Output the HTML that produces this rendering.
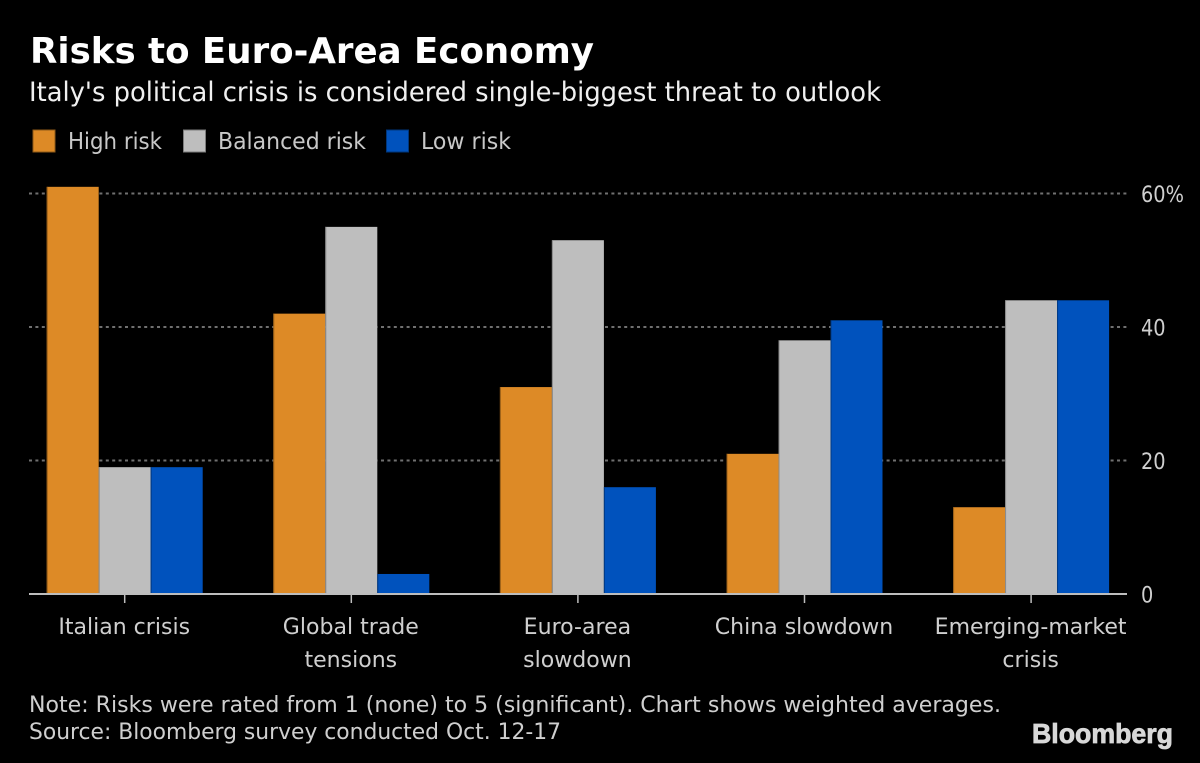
<!DOCTYPE html>
<html>
<head>
<meta charset="utf-8">
<title>Risks to Euro-Area Economy</title>
<style>
html,body{margin:0;padding:0;background:#000;}
svg{display:block;}
text{font-family:"DejaVu Sans","Liberation Sans",sans-serif;}
.lg{font-size:23px;fill:#c8c8c8;}
.cat{font-size:22.5px;fill:#cfcfcf;text-anchor:middle;}
.tick{font-size:22.5px;fill:#cfcfcf;}
.foot{font-size:22.5px;fill:#cfcfcf;}
</style>
</head>
<body>
<svg id="chart" xmlns="http://www.w3.org/2000/svg" width="1200" height="763" viewBox="0 0 1200 763">
  <rect x="0" y="0" width="1200" height="763" fill="#000"/>
  <text x="30" y="63" font-size="36" font-weight="700" fill="#fff" textLength="564" lengthAdjust="spacingAndGlyphs">Risks to Euro-Area Economy</text>
  <text x="29" y="101" font-size="27" fill="#f0f0f0" textLength="852" lengthAdjust="spacingAndGlyphs">Italy's political crisis is considered single-biggest threat to outlook</text>

  <g>
    <rect x="33" y="130" width="22" height="22" fill="#dd8a26" stroke="#8f5a18"/>
    <text class="lg" x="68" y="149" textLength="94" lengthAdjust="spacingAndGlyphs">High risk</text>
    <rect x="183.5" y="130" width="22" height="22" fill="#bebebe" stroke="#7c7c7c"/>
    <text class="lg" x="218" y="149" textLength="148" lengthAdjust="spacingAndGlyphs">Balanced risk</text>
    <rect x="386.5" y="130" width="22" height="22" fill="#0052bd" stroke="#00367b"/>
    <text class="lg" x="421" y="149" textLength="90" lengthAdjust="spacingAndGlyphs">Low risk</text>
  </g>

  <g id="grid"></g>
  <g id="bars"></g>
  <g id="axis"></g>

  <text class="foot" x="29" y="712" textLength="972" lengthAdjust="spacingAndGlyphs">Note: Risks were rated from 1 (none) to 5 (significant). Chart shows weighted averages.</text>
  <text class="foot" x="29" y="739" textLength="532" lengthAdjust="spacingAndGlyphs">Source: Bloomberg survey conducted Oct. 12-17</text>
  <text x="1032" y="743" font-size="28" font-weight="700" fill="#d8d8d8" stroke="#d8d8d8" stroke-width="0.8" style="font-family:'Liberation Sans',sans-serif" textLength="141" lengthAdjust="spacingAndGlyphs">Bloomberg</text>
</svg>
<script>
var categories = [["Italian crisis"], ["Global trade", "tensions"], ["Euro-area", "slowdown"], ["China slowdown"], ["Emerging-market", "crisis"]];
var highRisk = [61, 42, 31, 21, 13];
var balancedRisk = [19, 55, 53, 38, 44];
var lowRisk = [19, 3, 16, 41, 44];
var yTicks = [0, 20, 40, 60];
var yTickLabels = ["0", "20", "40", "60%"];

var NS = "http://www.w3.org/2000/svg";
var seriesList = [
  { key: "high-risk", values: highRisk, fill: "#dd8a26", edge: "#9a6019" },
  { key: "balanced-risk", values: balancedRisk, fill: "#bebebe", edge: "#8a8a8a" },
  { key: "low-risk", values: lowRisk, fill: "#0052bd", edge: "#003a85" }
];
var barWidth = 52;
var axisLeft = 29;
var axisRight = 1127;

function yScale(v) { return 594 - v * (400.5 / 60); }
function xCenter(i) { return 124.7 + i * 226.6; }

function make(tag, attrs, parent) {
  var el = document.createElementNS(NS, tag);
  for (var k in attrs) { el.setAttribute(k, attrs[k]); }
  parent.appendChild(el);
  return el;
}

var gridG = document.getElementById("grid");
var barsG = document.getElementById("bars");
var axisG = document.getElementById("axis");

yTicks.forEach(function (t, i) {
  if (t !== 0) {
    var line = make("line", { x1: axisLeft, x2: axisRight, y1: yScale(t), y2: yScale(t), stroke: "#707070", "stroke-width": 2, "stroke-dasharray": "3 3.4" }, gridG);
    
    
  }
  var label = make("text", { "class": "tick", transform: "translate(1141," + (yScale(t) + 8.5) + ") scale(0.86,1)" }, axisG);
  
  
  label.textContent = yTickLabels[i];
});

seriesList.forEach(function (s, si) {
  s.values.forEach(function (v, i) {
    var x = xCenter(i) + (si - 1.5) * barWidth;
    var bar = make("rect", { x: x, y: yScale(v), width: barWidth, height: yScale(0) - yScale(v), fill: s.fill }, barsG);
    
    
    var edge = make("line", { x1: x + 0.5, x2: x + 0.5, y1: yScale(v), y2: yScale(0), stroke: s.edge, "stroke-width": 1 }, barsG);
    
    
  });
});

var baseline = make("line", { x1: axisLeft, x2: axisRight, y1: 594, y2: 594, stroke: "#bdbdbd", "stroke-width": 2 }, axisG);



categories.forEach(function (lines, i) {
  var tick = make("line", { x1: xCenter(i), x2: xCenter(i), y1: 594, y2: 603, stroke: "#bdbdbd", "stroke-width": 1.5 }, axisG);
  
  
  lines.forEach(function (txt, li) {
    var label = make("text", { "class": "cat", transform: "translate(" + (xCenter(i) - 0.5) + "," + (634 + li * 33) + ") scale(0.98,1)" }, axisG);
    
    
    label.textContent = txt;
  });
});
</script>
</body>
</html>
